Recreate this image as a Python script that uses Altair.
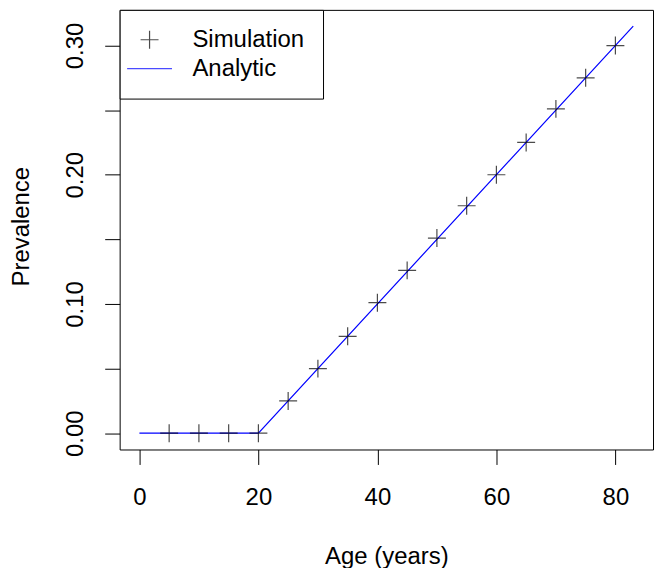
import altair as alt
import pandas as pd

# Simulation points
sim_age = [5, 10, 15, 20, 25, 30, 35, 40, 45, 50, 55, 60, 65, 70, 75, 80]
sim_prev = [0.0, 0.0, 0.0, 0.0, 0.025, 0.050, 0.075, 0.101, 0.126, 0.151,
            0.176, 0.200, 0.225, 0.251, 0.275, 0.300]

# Analytic curve (piecewise linear)
ana_age = [0, 20, 83]
ana_prev = [0.0, 0.0, 0.315]

series_names = ["Simulation", "Analytic"]
x_ticks = [0, 20, 40, 60, 80]
y_ticks = [0.0, 0.05, 0.10, 0.15, 0.20, 0.25, 0.30]

sim_df = pd.DataFrame({"age": sim_age, "prev": sim_prev, "series": "Simulation"})
ana_df = pd.DataFrame({"age": ana_age, "prev": ana_prev})

FONT = "Liberation Sans"
PLUS = "M-1,0H1M0,-1V1"
DASH = "M-2.5,0H2.5"

x_scale = alt.Scale(domain=[-3.32, 86.32], nice=False, zero=False)
y_scale = alt.Scale(domain=[-0.0126, 0.3276], nice=False, zero=False)

x_axis = alt.Axis(values=x_ticks, title="Age (years)", grid=False, domain=False,
                  tickSize=15, tickColor="black", labelColor="black",
                  labelFontSize=24, labelFont=FONT, labelBaseline="alphabetic",
                  labelPadding=40, labelFlush=False, labelOverlap=False,
                  titleFont=FONT, titleFontSize=24, titleFontWeight="normal",
                  titleColor="black", titleBaseline="alphabetic",
                  titleAlign="center", titleX=267.5, titleY=114)

y_axis = alt.Axis(values=y_ticks, title="Prevalence", grid=False, domain=False,
                  tickSize=15, tickColor="black", labelColor="black",
                  labelFontSize=24, labelFont=FONT, labelAngle=270,
                  labelAlign="center", labelBaseline="alphabetic",
                  labelPadding=22, labelFlush=False, labelOverlap=False,
                  labelExpr="round(datum.value*100) % 10 == 0 ? format(datum.value, '.2f') : ''",
                  titleFont=FONT, titleFontSize=24, titleFontWeight="normal",
                  titleColor="black", titleAngle=270, titleBaseline="alphabetic",
                  titleAlign="center", titleX=-91, titleY=217)


def make_legend():
    return alt.Legend(
        title=None, orient="top-left", offset=0,
        strokeColor="black", fillColor="white", padding=18, cornerRadius=0,
        labelFontSize=24, labelFont=FONT, labelColor="black", labelOffset=31,
        symbolSize=324, symbolStrokeWidth=1.2, symbolFillColor="transparent",
        rowPadding=5, labelLimit=300,
    )


line = alt.Chart(ana_df).mark_line(color="blue", strokeWidth=1.2).encode(
    x=alt.X("age:Q", scale=x_scale, axis=x_axis),
    y=alt.Y("prev:Q", scale=y_scale, axis=y_axis),
)

points = alt.Chart(sim_df).mark_point(filled=False, strokeWidth=1.2, size=324).encode(
    x=alt.X("age:Q", scale=x_scale),
    y=alt.Y("prev:Q", scale=y_scale),
    shape=alt.Shape("series:N", scale=alt.Scale(domain=series_names, range=[PLUS, DASH]),
                    legend=make_legend()),
    stroke=alt.Stroke("series:N", scale=alt.Scale(domain=series_names, range=["black", "blue"]),
                      legend=make_legend()),
)

chart = alt.layer(line, points).properties(
    width=535, height=441,
    autosize=alt.AutoSizeParams(type="none"),
    padding={"left": 112, "top": 1, "right": 1, "bottom": 118},
    background="white",
).configure_view(
    stroke="black", strokeWidth=1
)

chart.save("out.html", embed_options={"renderer": "svg", "actions": False})
